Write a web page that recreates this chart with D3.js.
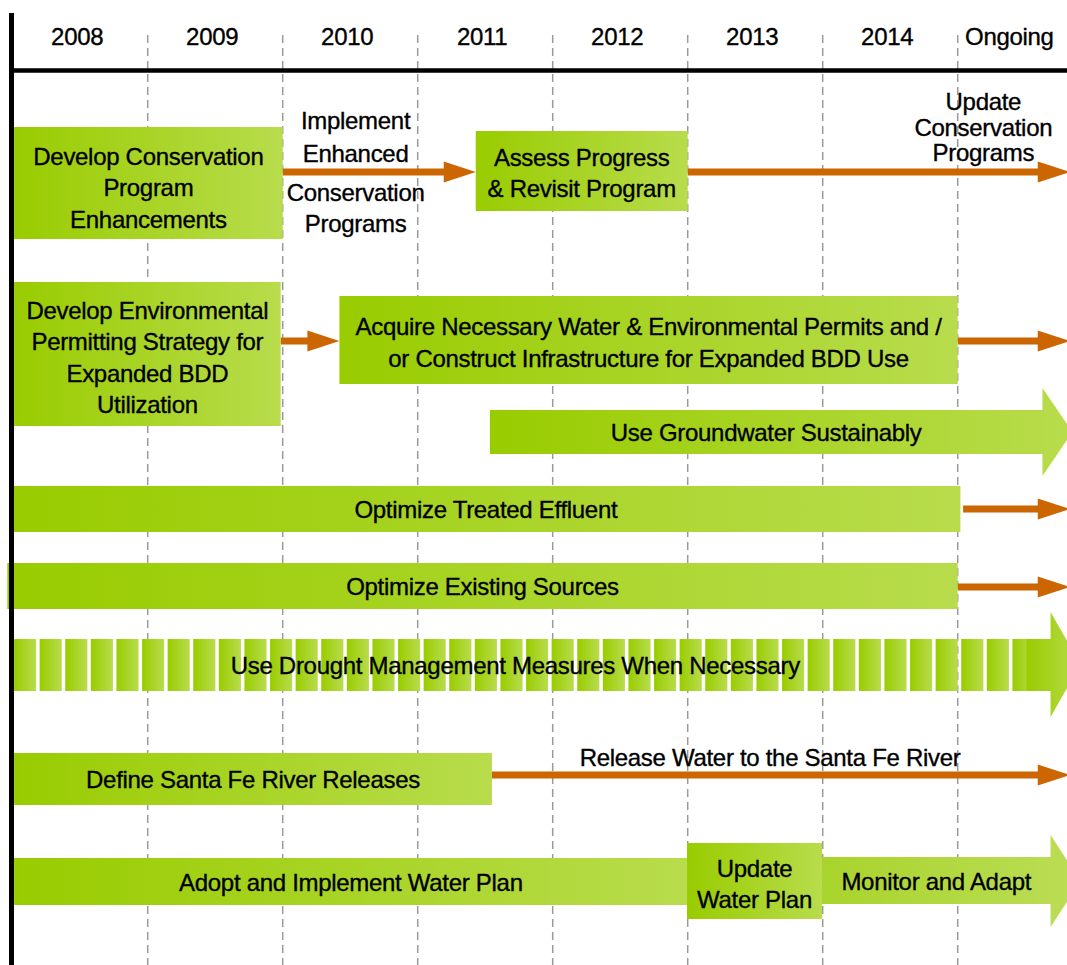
<!DOCTYPE html>
<html>
<head>
<meta charset="utf-8">
<script src="https://cdn.jsdelivr.net/npm/d3@7"></script>
<style>
  body { margin: 0; background: #fff; }
  svg text { font-family: "Liberation Sans", Arial, sans-serif; fill: #000; stroke: #000; stroke-width: 0.35px; letter-spacing: -0.3px; }
</style>
</head>
<body>
<div id="chart"></div>
<script>
const WIDTH = 1067, HEIGHT = 965;

// one column per year, the last one is open ended
const years = ["2008", "2009", "2010", "2011", "2012", "2013", "2014", "Ongoing"];

// green task boxes (start / end in years counted from the start of 2008)
const boxLabels = [
  ["Develop Conservation", "Program", "Enhancements"],
  ["Assess Progress", "& Revisit Program"],
  ["Develop Environmental", "Permitting Strategy for", "Expanded BDD", "Utilization"],
  ["Acquire Necessary Water & Environmental Permits and /", "or Construct Infrastructure for Expanded BDD Use"],
  ["Optimize Treated Effluent"],
  ["Optimize Existing Sources"],
  ["Define Santa Fe River Releases"],
  ["Adopt and Implement Water Plan"],
  ["Update", "Water Plan"]
];
const boxStart = [0.01, 3.43, 0.01, 2.42, -0.01, -0.04, 0.01, 0.01, 4.995];
const boxEnd   = [2.0, 5.0, 1.985, 7.0, 7.02, 7.0, 3.55, 5.0, 5.995];

// green block arrows (end = arrow tip)
const blockLabels = ["Use Groundwater Sustainably", "Use Drought Management Measures When Necessary", "Monitor and Adapt"];
const blockStart = [3.535, 0.01, 5.995];
const blockEnd   = [7.85, 7.91, 7.91];
const droughtStripes = 40;

// orange arrows
const arrowStart = [2.0, 5.0, 1.985, 7.0, 7.04, 7.0, 3.55];
const arrowEnd   = [3.43, 7.83, 2.42, 7.83, 7.83, 7.83, 7.83];

// loose labels next to the orange arrows
const noteLabels = [
  ["Implement", "Enhanced"],
  ["Conservation", "Programs"],
  ["Update", "Conservation", "Programs"],
  ["Release Water to the Santa Fe River"]
];
const noteAt = [2.54, 2.54, 7.19, 5.61];

// ---- layout (pixels) ----
const left = 12.7, colW = 135;
const boxTop    = [127, 131, 282, 296, 486, 563, 753, 858, 843];
const boxBottom = [239, 211, 426, 384, 532, 609, 805, 905, 919];
const boxTextShift = [5, 2, 3.5, 2.5, 1, 1, 1, 1, 3];
const blockBody = [[410, 454], [639, 691], [857, 904]];
const blockHead = [[388, 476], [612, 717], [835, 927]];
const arrowY = [172, 172, 341, 341, 509, 587, 775];
const noteY = [[121, 154], [193, 224], [102, 128, 153], [758]];
const lineH = 31.5;
const fontSize = 24;

let x = d3.scaleLinear()
    .domain([0, years.length])
    .range([left, left + colW * years.length]);

let svg = d3.select("#chart")
    .append("svg")
    .attr("width", WIDTH)
    .attr("height", HEIGHT);

// gradients
let defs = svg.append("defs");
function gradient(id, c0, c1) {
  let g = defs.append("linearGradient").attr("id", id)
      .attr("x1", 0).attr("x2", 1).attr("y1", 0).attr("y2", 0);
  g.append("stop").attr("offset", "0%").attr("stop-color", c0);
  g.append("stop").attr("offset", "100%").attr("stop-color", c1);
}
gradient("green", "#99cc00", "#b8dc4c");
gradient("greenLight", "#a9d42c", "#bbdd56");

// dashed year boundaries
svg.append("g")
  .selectAll("line")
  .data(d3.range(1, years.length))
  .join("line")
    .attr("x1", d => x(d)).attr("x2", d => x(d))
    .attr("y1", 35).attr("y2", HEIGHT)
    .attr("stroke", "#9a9a9a")
    .attr("stroke-width", 1.5)
    .attr("stroke-dasharray", "8,5");

// header
svg.append("g")
  .selectAll("text")
  .data(years)
  .join("text")
    .attr("x", (d, i) => (x(i) + Math.min(x(i + 1), WIDTH)) / 2 - 3)
    .attr("y", 45)
    .attr("text-anchor", "middle")
    .style("font-size", fontSize + "px")
    .text(d => d);

svg.append("line")
    .attr("x1", left).attr("x2", WIDTH)
    .attr("y1", 70.5).attr("y2", 70.5)
    .attr("stroke", "#000").attr("stroke-width", 4.5);

// orange arrows
let headLen = 32, headHalf = 10.5;
svg.append("g")
  .selectAll("path")
  .data(arrowStart)
  .join("path")
    .attr("fill", "#cc6600")
    .attr("d", (d, i) => {
      let x0 = x(d), x1 = x(arrowEnd[i]), y = arrowY[i], hx = x1 - headLen;
      return `M${x0},${y - 3.5}H${hx}V${y - headHalf}L${x1},${y}L${hx},${y + headHalf}V${y + 3.5}H${x0}Z`;
    });

// block arrows
let blockLen = 30;
function blockPath(x0, x1, i) {
  let b = blockBody[i], h = blockHead[i], hx = x1 - blockLen, mid = (h[0] + h[1]) / 2;
  return `M${x0},${b[0]}H${hx}V${h[0]}L${x1},${mid}L${hx},${h[1]}V${b[1]}H${x0}Z`;
}
// groundwater
svg.append("path")
    .attr("d", blockPath(x(blockStart[0]), x(blockEnd[0]), 0))
    .attr("fill", "url(#green)");

// drought: striped bar ending in an arrow
let dTip = x(blockEnd[1]), dBodyEnd = dTip - blockLen, gap = 3.5;
let dStripeEnd = dBodyEnd - 16;
let pitch = (dStripeEnd - x(blockStart[1]) + gap) / droughtStripes;
svg.append("g")
  .selectAll("rect")
  .data(d3.range(droughtStripes))
  .join("rect")
    .attr("x", d => x(blockStart[1]) + d * pitch)
    .attr("width", pitch - gap)
    .attr("y", blockBody[1][0])
    .attr("height", blockBody[1][1] - blockBody[1][0])
    .attr("fill", "url(#green)");
svg.append("path")
    .attr("d", blockPath(dStripeEnd - 8, dTip, 1))
    .attr("fill", "url(#green)");

// monitor and adapt
svg.append("path")
    .attr("d", blockPath(x(blockStart[2]), x(blockEnd[2]), 2))
    .attr("fill", "url(#greenLight)");

// boxes
let boxes = svg.append("g")
  .selectAll("g")
  .data(boxLabels)
  .join("g");
boxes.append("rect")
    .attr("x", (d, i) => x(boxStart[i]))
    .attr("width", (d, i) => x(boxEnd[i]) - x(boxStart[i]))
    .attr("y", (d, i) => boxTop[i])
    .attr("height", (d, i) => boxBottom[i] - boxTop[i])
    .attr("fill", "url(#green)");

function multiline(sel, lines, cx, ys) {
  let t = sel.append("text")
      .attr("text-anchor", "middle")
      .style("font-size", fontSize + "px");
  lines.forEach((l, k) => {
    t.append("tspan").attr("x", cx).attr("y", ys[k]).attr("dy", "0.35em").text(l);
  });
}

boxes.each(function(d, i) {
  let mid = (boxTop[i] + boxBottom[i]) / 2 + boxTextShift[i];
  let ys = d.map((l, k) => mid + (k - (d.length - 1) / 2) * lineH);
  multiline(d3.select(this), d, (x(boxStart[i]) + x(boxEnd[i])) / 2, ys);
});

// block arrow labels
blockLabels.forEach((l, i) => {
  let b = blockBody[i];
  let cx = i === 1 ? (x(blockStart[1]) + dTip) / 2 - 32 : (x(blockStart[i]) + x(blockEnd[i]) - blockLen) / 2;
  multiline(svg, [l], cx, [(b[0] + b[1]) / 2 + 1]);
});

// notes
noteLabels.forEach((l, i) => multiline(svg, l, x(noteAt[i]), noteY[i]));

// left axis on top
svg.append("line")
    .attr("x1", 11.5).attr("x2", 11.5)
    .attr("y1", 13).attr("y2", HEIGHT)
    .attr("stroke", "#000").attr("stroke-width", 5);
</script>
</body>
</html>
